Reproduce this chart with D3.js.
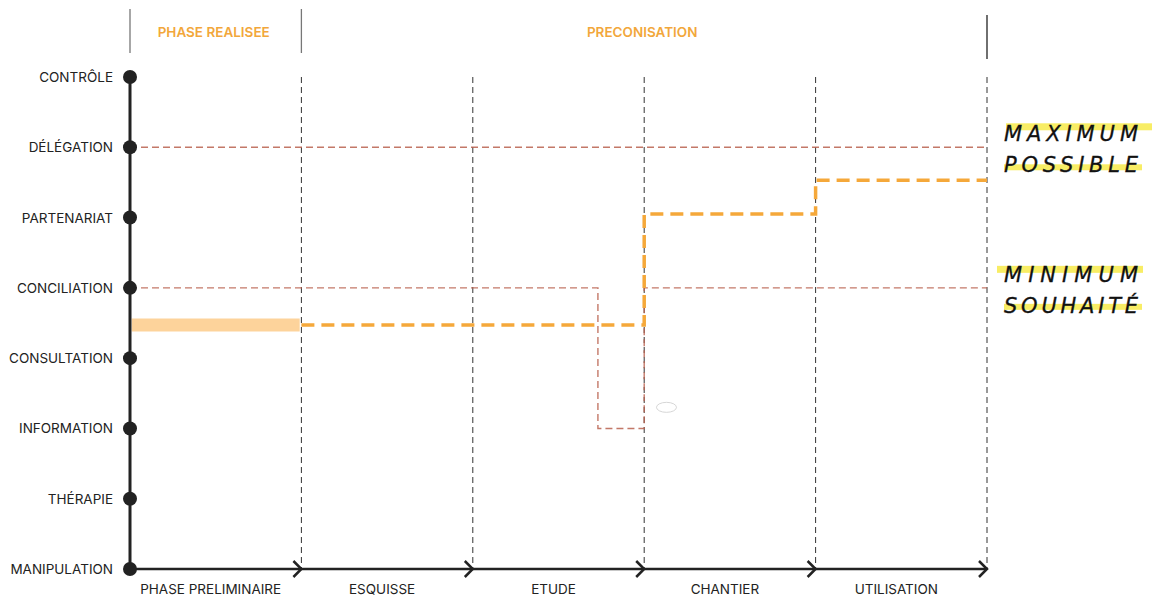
<!DOCTYPE html>
<html>
<head>
<meta charset="utf-8">
<script src="https://cdn.jsdelivr.net/npm/d3@7"></script>
<style>
  body { margin: 0; background: #fff; }
  svg { display: block; font-family: Inter, "Noto Sans", sans-serif; }
</style>
</head>
<body>
<div id="chart"></div>
<script>
/* global d3 */

// Levels of participation, bottom to top
var levels = [ "MANIPULATION", "THÉRAPIE", "INFORMATION", "CONSULTATION",
  "CONCILIATION", "PARTENARIAT", "DÉLÉGATION", "CONTRÔLE" ];

// Project phases along the bottom
var phases = [ "PHASE PRELIMINAIRE", "ESQUISSE", "ETUDE", "CHANTIER", "UTILISATION" ];

// Header groups: [label, first phase, last phase + 1]
var headers = [ [ "PHASE REALISEE", 0, 1 ], [ "PRECONISATION", 1, 5 ] ];

// Realised level during the preliminary phase
var realised = [ [ 0.01, 3.47 ], [ 0.99, 3.47 ] ];

// Recommended level (step line), [phase position, level]
var recommended = [ [ 1, 3.47 ], [ 3, 3.47 ], [ 3, 5.05 ], [ 4, 5.05 ], [ 4, 5.53 ], [ 5, 5.53 ] ];

// Maximum possible and minimum wished
var maximum = [ [ 0, 6 ], [ 5, 6 ] ];
var minimum = [ [ 0, 4 ], [ 2.73, 4 ], [ 2.73, 2 ], [ 3, 2 ], [ 3, 4 ], [ 5, 4 ] ];

// Handwritten notes: [line1, line2, level]
var notes = [ [ "MAXIMUM", "POSSIBLE", 6 ], [ "MINIMUM", "SOUHAITÉ", 4 ] ];

var width = 1156, height = 599;

var xScale = d3.scaleLinear().domain( [ 0, phases.length ] ).range( [ 130, 987 ] );
var yScale = d3.scaleLinear().domain( [ 0, levels.length - 1 ] ).range( [ 569, 77 ] );

var svg = d3.select( "#chart" ).append( "svg" )
  .attr( "width", width )
  .attr( "height", height );

var line = d3.line()
  .x( function( d ) { return xScale( d[ 0 ] ); } )
  .y( function( d ) { return yScale( d[ 1 ] ); } );

// Header separators and labels
var bounds = [ 0, 1, 5 ];
svg.selectAll( ".hsep" )
  .data( bounds )
  .enter().append( "line" )
    .attr( "x1", function( d ) { return xScale( d ); } )
    .attr( "x2", function( d ) { return xScale( d ); } )
    .attr( "y1", function( d ) { return d === 5 ? 15 : 9; } )
    .attr( "y2", function( d ) { return d === 5 ? 59 : 53; } )
    .attr( "stroke", function( d ) { return d === 5 ? "#222" : "#777"; } )
    .attr( "stroke-width", 1.3 );

svg.selectAll( ".htext" )
  .data( headers )
  .enter().append( "text" )
    .attr( "x", function( d ) { return ( xScale( d[ 1 ] ) + xScale( d[ 2 ] ) ) / 2 - 2; } )
    .attr( "y", 37 )
    .attr( "text-anchor", "middle" )
    .attr( "fill", "#f2a73b" )
    .attr( "font-size", 13.5 )
    .attr( "font-weight", 600 )
    .text( function( d ) { return d[ 0 ]; } );

// Vertical dashed phase boundaries
svg.selectAll( ".vgrid" )
  .data( d3.range( 1, phases.length + 1 ) )
  .enter().append( "line" )
    .attr( "x1", function( d ) { return xScale( d ); } )
    .attr( "x2", function( d ) { return xScale( d ); } )
    .attr( "y1", yScale( 7 ) )
    .attr( "y2", yScale( 0 ) )
    .attr( "stroke", "#333" )
    .attr( "stroke-width", 1 )
    .attr( "stroke-dasharray", "6,4" );

// Maximum / minimum lines
[ maximum, minimum ].forEach( function( pts ) {
  svg.append( "path" )
    .attr( "d", line( pts ) )
    .attr( "fill", "none" )
    .attr( "stroke", "#b9604e" )
    .attr( "stroke-opacity", 0.85 )
    .attr( "stroke-width", 1.4 )
    .attr( "stroke-dasharray", "7,4" );
} );

// Realised bar
svg.append( "path" )
  .attr( "d", line( realised ) )
  .attr( "fill", "none" )
  .attr( "stroke", "#fdd39b" )
  .attr( "stroke-width", 13 );

// Recommended step line
svg.append( "path" )
  .attr( "d", line( recommended ) )
  .attr( "fill", "none" )
  .attr( "stroke", "#f5a83a" )
  .attr( "stroke-width", 3.5 )
  .attr( "stroke-dasharray", "13,7" );

// Small doodle
svg.append( "ellipse" )
  .attr( "cx", xScale( 3.13 ) )
  .attr( "cy", yScale( 2.3 ) )
  .attr( "rx", 10 )
  .attr( "ry", 5 )
  .attr( "fill", "none" )
  .attr( "stroke", "#ccc" )
  .attr( "stroke-width", 0.8 );

// Axes
svg.append( "line" )
  .attr( "x1", xScale( 0 ) ).attr( "x2", xScale( 0 ) )
  .attr( "y1", yScale( 7 ) ).attr( "y2", yScale( 0 ) )
  .attr( "stroke", "#222" ).attr( "stroke-width", 3 );

svg.append( "line" )
  .attr( "x1", xScale( 0 ) ).attr( "x2", xScale( 5 ) )
  .attr( "y1", yScale( 0 ) ).attr( "y2", yScale( 0 ) )
  .attr( "stroke", "#222" ).attr( "stroke-width", 2.5 );

// Chevrons on the x axis
svg.selectAll( ".chev" )
  .data( d3.range( 1, phases.length + 1 ) )
  .enter().append( "path" )
    .attr( "d", function( d ) {
      var x = xScale( d ), y = yScale( 0 );
      return "M" + ( x - 8 ) + "," + ( y - 8 ) + "L" + x + "," + y + "L" + ( x - 8 ) + "," + ( y + 8 );
    } )
    .attr( "fill", "none" )
    .attr( "stroke", "#222" )
    .attr( "stroke-width", 2.5 );

// Level dots and labels
svg.selectAll( ".dot" )
  .data( levels )
  .enter().append( "circle" )
    .attr( "cx", xScale( 0 ) )
    .attr( "cy", function( d, i ) { return yScale( i ); } )
    .attr( "r", 7 )
    .attr( "fill", "#222" );

svg.selectAll( ".ylab" )
  .data( levels )
  .enter().append( "text" )
    .attr( "x", 113 )
    .attr( "y", function( d, i ) { return yScale( i ) + 5; } )
    .attr( "text-anchor", "end" )
    .attr( "font-size", 13.5 )
    .attr( "fill", "#222" )
    .text( function( d ) { return d; } );

// Phase labels
svg.selectAll( ".xlab" )
  .data( phases )
  .enter().append( "text" )
    .attr( "x", function( d, i ) { return xScale( i + 0.5 ) - 5; } )
    .attr( "y", 594 )
    .attr( "text-anchor", "middle" )
    .attr( "font-size", 13.5 )
    .attr( "fill", "#222" )
    .text( function( d ) { return d; } );

// Handwritten notes with highlighter
notes.forEach( function( n ) {
  var y0 = yScale( n[ 2 ] );
  var top = n[ 2 ] === 6;
  var g = svg.append( "g" );
  g.append( "rect" ).attr( "x", top ? 1006 : 997 ).attr( "y", y0 - ( top ? 24 : 22 ) )
    .attr( "width", 146 ).attr( "height", 7 ).attr( "fill", "#f7ea4a" ).attr( "opacity", 0.85 );
  g.append( "rect" ).attr( "x", 1004 ).attr( "y", y0 + ( top ? 17 : 16 ) )
    .attr( "width", 138 ).attr( "height", 6 ).attr( "fill", "#f7ea4a" ).attr( "opacity", 0.85 );
  [ n[ 0 ], n[ 1 ] ].forEach( function( t, k ) {
    g.append( "text" )
      .attr( "x", 1004 )
      .attr( "y", y0 - 6 + k * 31 )
      .attr( "font-family", "'DejaVu Sans', sans-serif" )
      .attr( "font-style", "italic" )
      .attr( "font-weight", 300 )
      .attr( "font-size", 21 )
      .attr( "fill", "#111" )
      .attr( "stroke", "#111" )
      .attr( "stroke-width", 0.3 )
      .attr( "textLength", 134 )
      .attr( "lengthAdjust", "spacing" )
      .text( t );
  } );
} );
</script>
</body>
</html>
